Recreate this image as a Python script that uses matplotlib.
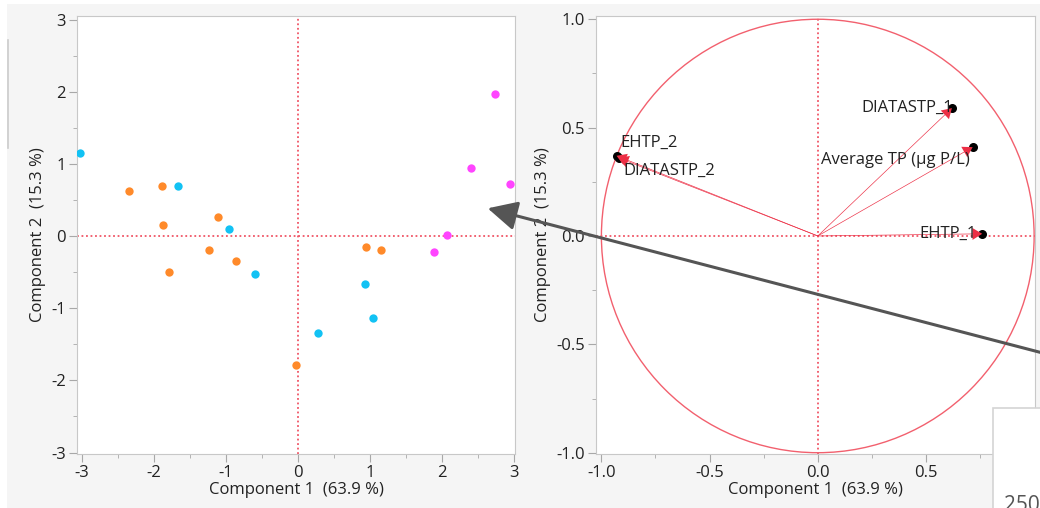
import numpy as np
import matplotlib.pyplot as plt
from matplotlib.patches import Circle, Rectangle, FancyArrowPatch
from matplotlib.ticker import MultipleLocator

# score plot, one group per colour
cyan_x = [-3.03, -1.67, -0.96, -0.60, 0.28, 0.94, 1.05]
cyan_y = [1.15, 0.70, 0.10, -0.53, -1.34, -0.67, -1.14]
orange_x = [-2.35, -1.89, -1.87, -1.11, -1.23, -0.86, -1.79, -0.02, 0.95, 1.16]
orange_y = [0.63, 0.70, 0.15, 0.27, -0.19, -0.35, -0.50, -1.79, -0.15, -0.19]
magenta_x = [2.74, 2.41, 2.95, 2.07, 1.89]
magenta_y = [1.97, 0.95, 0.72, 0.01, -0.22]

# loading plot
load_names = ["DIATASTP_1", "Average TP (µg P/L)", "EHTP_1", "EHTP_2", "DIATASTP_2"]
load_x = [0.62, 0.716, 0.76, -0.93, -0.92]
load_y = [0.59, 0.41, 0.01, 0.37, 0.36]

xlabel = "Component 1  (63.9 %)"
ylabel = "Component 2  (15.3 %)"

plt.rcParams['font.family'] = ['Open Sans', 'DejaVu Sans']
plt.rcParams['axes.unicode_minus'] = False

BG = '#f5f5f5'
REF = '#f05566'
TXT = '#222222'
FS = 12

fig = plt.figure(figsize=(10.4, 5.08), dpi=100, facecolor=BG)
W, H = 1040, 508


def style_axes(ax, ticks, minor):
    for s in ax.spines.values():
        s.set_color('#c8c8c8')
    ax.set_xticks(ticks)
    ax.set_yticks(ticks)
    ax.xaxis.set_minor_locator(MultipleLocator(minor))
    ax.yaxis.set_minor_locator(MultipleLocator(minor))
    ax.tick_params(which='major', length=6, color='#a8a8a8', labelsize=FS,
                   labelcolor=TXT, direction='out', pad=2)
    ax.tick_params(which='minor', length=3, color='#a8a8a8', direction='out')
    ax.axhline(0, color=REF, lw=1.3, ls=(0, (1, 1.5)), zorder=1)
    ax.axvline(0, color=REF, lw=1.3, ls=(0, (1, 1.5)), zorder=1)
    ax.set_xlabel(xlabel, fontsize=FS, color=TXT, labelpad=1)
    ax.set_ylabel(ylabel, fontsize=FS, color=TXT, labelpad=4)


# left: scores
ax1 = fig.add_axes([77 / W, 1 - 454 / H, 438 / W, 438 / H])
style_axes(ax1, [-3, -2, -1, 0, 1, 2, 3], 0.5)
ax1.set_xlim(-3.07, 3.02)
ax1.set_ylim(-3.02, 3.05)
ax1.scatter(cyan_x, cyan_y, s=36, color='#12c2f4', lw=0, zorder=3)
ax1.scatter(orange_x, orange_y, s=36, color='#ff8a2a', lw=0, zorder=3)
ax1.scatter(magenta_x, magenta_y, s=36, color='#ff45ff', lw=0, zorder=3)

# right: loadings
ax2 = fig.add_axes([596 / W, 1 - 454 / H, 439 / W, 438 / H])
style_axes(ax2, [-1.0, -0.5, 0.0, 0.5], 0.25)
ax2.set_yticks([-1.0, -0.5, 0.0, 0.5, 1.0])
ax2.set_xlim(-1.025, 1.004)
ax2.set_ylim(-1.006, 1.015)
ax2.xaxis.set_major_formatter(lambda v, p: f"{v:.1f}")
ax2.yaxis.set_major_formatter(lambda v, p: f"{v:.1f}")
ax2.add_patch(Circle((0, 0), 1, fill=False, color='#f2606e', lw=1, zorder=2))

ax2.scatter(load_x, load_y, s=30, color='black', zorder=3)
for x, y in zip(load_x, load_y):
    ax2.arrow(0, 0, x, y, width=0.003, head_width=0.055,
              head_length=0.045, length_includes_head=True, color='#ec2f45',
              lw=0, zorder=4)

label_off = [(1, 0), (-2, -9), (-4, 0), (3, 9), (3, -9)]
label_ha = ['right', 'right', 'right', 'left', 'left']
for name, x, y, off, ha in zip(load_names, load_x, load_y, label_off, label_ha):
    ax2.annotate(name, xy=(x, y), xytext=off, textcoords='offset points',
                 ha=ha, va='center', fontsize=FS, color=TXT, zorder=5)

# red tick at zero on the x axes
for ax in (ax1, ax2):
    for t in ax.xaxis.get_major_ticks():
        if abs(t.get_loc()) < 1e-9:
            t.tick1line.set_color(REF)

# screenshot overlays
fig.add_artist(Rectangle((0, 1 - 4 / H), 1, 4 / H, transform=fig.transFigure,
                         facecolor='white', edgecolor='none', zorder=0))
fig.add_artist(Rectangle((0, 0), 7 / W, 1, transform=fig.transFigure,
                         facecolor='white', edgecolor='none', zorder=0))
fig.add_artist(plt.Line2D([8 / W, 8 / W], [1 - 148 / H, 1 - 40 / H],
                          transform=fig.transFigure, color='#cccccc', lw=1.2))
fig.add_artist(FancyArrowPatch((1.01, 1 - 355 / H), (487.7 / W, 1 - 208.3 / H),
                               transform=fig.transFigure,
                               arrowstyle='-|>,head_length=0.4,head_width=0.2',
                               mutation_scale=45, color='#555555', lw=2.2,
                               shrinkA=0, shrinkB=0, zorder=10))
fig.add_artist(Rectangle((992.7 / W, -0.01), 0.05, 0.01 + (508 - 408.3) / H,
                         transform=fig.transFigure, facecolor='white',
                         edgecolor='#d4d4d4', lw=1.2, zorder=11))
fig.text(1004 / W, 1 - 495 / H, "250", fontsize=15, color='#555555',
         va='top', ha='left', zorder=12)

fig.savefig('out.png', dpi=100, facecolor=BG)
